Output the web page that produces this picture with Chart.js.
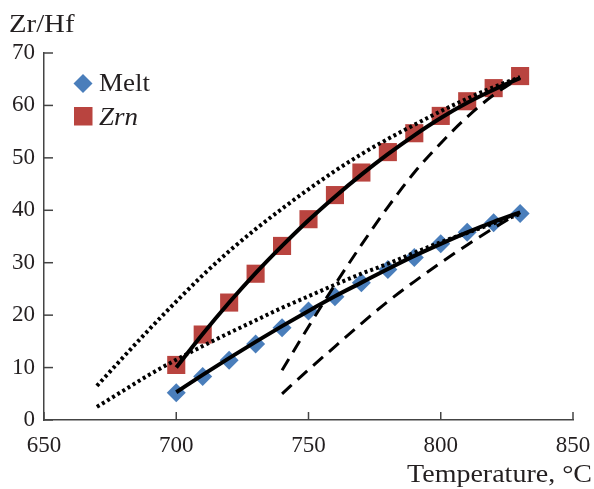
<!DOCTYPE html>
<html>
<head>
<meta charset="utf-8">
<script src="https://cdn.jsdelivr.net/npm/chart.js@4/dist/chart.umd.min.js"></script>
<style>
  html, body { margin: 0; padding: 0; background: #fff; }
  #wrap { width: 594px; height: 489px; position: relative; }
</style>
</head>
<body>
<div id="wrap"><canvas id="chart"></canvas></div>
<script>
// Zr/Hf ratio vs temperature (melt and zircon)

const temps = [700, 710, 720, 730, 740, 750, 760, 770, 780, 790, 800, 810, 820, 830];
const meltRatio = [5.2, 8.3, 11.4, 14.5, 17.6, 20.8, 23.5, 26.2, 28.7, 31.0, 33.6, 35.8, 37.6, 39.4];
const zrnRatio = [10.5, 16.3, 22.4, 27.9, 33.2, 38.3, 42.9, 47.2, 51.1, 54.7, 58.0, 60.8, 63.3, 65.6];

// solid fitted curves
const meltFit = [5.3, 8.6, 11.8, 14.9, 17.9, 20.8, 23.6, 26.2, 28.8, 31.3, 33.6, 35.8, 37.8, 39.6];
const zrnFit = [10.0, 16.4, 22.4, 28.0, 33.2, 38.1, 42.6, 46.8, 50.7, 54.3, 57.6, 60.5, 63.0, 65.2];

// dotted model curves
const dotTemps = [670, 680, 690, 700, 710, 720, 730, 740, 750, 760, 770, 780, 790, 800, 810, 820, 830];
const zrnDotted = [6.5, 12.0, 17.4, 22.6, 27.6, 32.2, 36.4, 40.3, 44.0, 47.5, 50.7, 53.6, 56.3, 58.9, 61.3, 63.5, 65.4];
const meltDotted = [2.5, 5.6, 8.7, 11.5, 14.1, 16.6, 19.0, 21.4, 23.6, 25.8, 27.9, 29.8, 31.9, 33.9, 35.7, 37.5, 39.3];

// dashed model curves
const dashTemps = [740, 750, 760, 770, 780, 790, 800, 810, 820, 830];
const zrnDashed = [9.5, 17.8, 25.8, 33.4, 40.6, 47.2, 52.8, 57.8, 62.0, 65.3];
const meltDashed = [5.0, 9.6, 14.0, 18.4, 22.6, 26.4, 30.0, 33.4, 36.6, 39.6];

const xTicks = [650, 700, 750, 800, 850];
const yTicks = [0, 10, 20, 30, 40, 50, 60, 70];

const BLUE = "#4a7ebb";
const RED = "#b9443f";
const INK = "#231f20";
const SERIF = "'Liberation Serif', 'Times New Roman', serif";

function pts(xs, ys) {
  return xs.map((x, i) => ({ x: x, y: ys[i] }));
}

function curve(xs, ys, dash, width) {
  return {
    data: pts(xs, ys),
    showLine: true,
    borderColor: "#000",
    borderWidth: width,
    borderDash: dash,
    borderCapStyle: "butt",
    pointRadius: 0,
    cubicInterpolationMode: "monotone",
    order: 0,
  };
}

// text drawn slightly wider, like the reference lettering
function wideText(ctx, text, x, y, align, stretch) {
  ctx.save();
  ctx.textAlign = align;
  ctx.translate(x, y);
  ctx.scale(stretch, 1);
  ctx.fillText(text, 0, 0);
  ctx.restore();
}

// inside tick marks + free texts + legend
const decor = {
  id: "decor",
  afterDraw(chart) {
    const ctx = chart.ctx;
    const xs = chart.scales.x;
    const ys = chart.scales.y;
    const area = chart.chartArea;
    ctx.save();
    ctx.strokeStyle = "#444";
    ctx.lineWidth = 1.5;
    xTicks.forEach((v) => {
      const px = xs.getPixelForValue(v);
      ctx.beginPath();
      ctx.moveTo(px, area.bottom);
      ctx.lineTo(px, area.bottom - 8);
      ctx.stroke();
    });
    yTicks.forEach((v) => {
      const py = ys.getPixelForValue(v);
      ctx.beginPath();
      ctx.moveTo(area.left, py);
      ctx.lineTo(area.left + 9, py);
      ctx.stroke();
    });

    ctx.fillStyle = INK;
    ctx.textBaseline = "alphabetic";
    ctx.font = "25px " + SERIF;
    wideText(ctx, "Zr/Hf", 9, 32, "left", 1.15);
    wideText(ctx, "Temperature, °C", 592, 482, "right", 1.12);

    // legend
    ctx.fillStyle = BLUE;
    ctx.beginPath();
    ctx.moveTo(83, 74);
    ctx.lineTo(92.5, 83.5);
    ctx.lineTo(83, 93);
    ctx.lineTo(73.5, 83.5);
    ctx.closePath();
    ctx.fill();
    ctx.fillStyle = RED;
    ctx.fillRect(74, 107, 18.5, 18.5);

    ctx.fillStyle = INK;
    ctx.font = "25px " + SERIF;
    wideText(ctx, "Melt", 99, 91, "left", 1.08);
    ctx.font = "italic 25px " + SERIF;
    wideText(ctx, "Zrn", 99, 125, "left", 1.08);
    ctx.restore();
  },
};

new Chart(document.getElementById("chart"), {
  type: "scatter",
  data: {
    datasets: [
      {
        label: "Melt",
        data: pts(temps, meltRatio),
        pointStyle: "rectRot",
        pointRadius: 9.5,
        pointHoverRadius: 9.5,
        backgroundColor: BLUE,
        borderColor: BLUE,
        borderWidth: 0,
        order: 10,
      },
      {
        label: "Zrn",
        data: pts(temps, zrnRatio),
        pointStyle: "rect",
        pointRadius: 12.8,
        pointHoverRadius: 12.8,
        backgroundColor: RED,
        borderColor: RED,
        borderWidth: 0,
        order: 10,
      },
      curve(temps, zrnFit, [], 4),
      curve(temps, meltFit, [], 4),
      curve(dotTemps, zrnDotted, [3, 3], 4),
      curve(dotTemps, meltDotted, [3, 3], 4),
      curve(dashTemps, zrnDashed, [13, 8], 3),
      curve(dashTemps, meltDashed, [13, 8], 3),
    ],
  },
  options: {
    responsive: true,
    maintainAspectRatio: false,
    animation: false,
    layout: { padding: { top: 53, right: 21, left: 0, bottom: 0 } },
    plugins: {
      legend: { display: false },
      tooltip: { enabled: false },
    },
    scales: {
      x: {
        type: "linear",
        min: 650,
        max: 850,
        afterFit: (scale) => {
          scale.height = 69;
          scale.paddingLeft = 0;
          scale.paddingRight = 0;
        },
        afterBuildTicks: (scale) => { scale.ticks = xTicks.map((v) => ({ value: v })); },
        grid: { display: false, drawTicks: false },
        border: { display: true, color: "#444", width: 1.5 },
        ticks: { padding: 12, color: INK, font: { family: SERIF, size: 23 } },
      },
      y: {
        type: "linear",
        min: 0,
        max: 70,
        afterFit: (scale) => { scale.width = 44; },
        afterBuildTicks: (scale) => { scale.ticks = yTicks.map((v) => ({ value: v })); },
        grid: { display: false, drawTicks: false },
        border: { display: true, color: "#444", width: 1.5 },
        ticks: { padding: 9, color: INK, font: { family: SERIF, size: 23 } },
      },
    },
  },
  plugins: [decor],
});
</script>
</body>
</html>
